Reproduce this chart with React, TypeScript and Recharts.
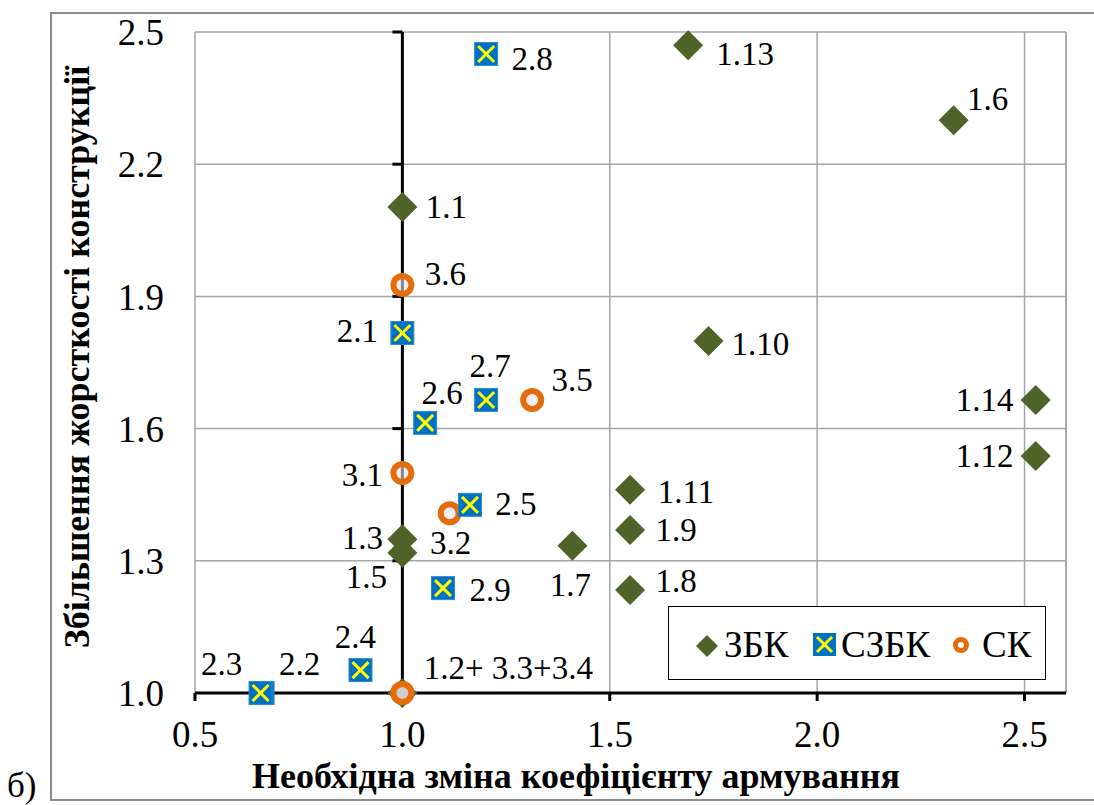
import React from 'react';
import {
    ScatterChart,
    Scatter,
    XAxis,
    YAxis,
    CartesianGrid,
    ReferenceLine,
    Legend,
} from 'recharts';

const FONT = "'Liberation Serif', 'Times New Roman', 'DejaVu Serif', serif";

// axis ticks
const X_TICKS = [0.5, 1.0, 1.5, 2.0, 2.5];
const Y_TICKS = [1.0, 1.3, 1.6, 1.9, 2.2, 2.5];

// ЗБК
const zbkNames = ['1.1', '1.2', '1.3', '1.5', '1.6', '1.7', '1.8', '1.9', '1.10', '1.11', '1.12', '1.13', '1.14'];
const zbkX = [1.0, 1.0, 1.0, 1.0, 2.329, 1.41, 1.549, 1.549, 1.738, 1.549, 2.527, 1.689, 2.527];
const zbkY = [2.103, 1.0, 1.349, 1.318, 2.3, 1.334, 1.234, 1.37, 1.799, 1.461, 1.538, 2.47, 1.665];

// СЗБК
const szbkNames = ['2.1', '2.2', '2.3', '2.4', '2.5', '2.6', '2.7', '2.8', '2.9'];
const szbkX = [1.0, 0.663, 0.658, 0.899, 1.163, 1.055, 1.202, 1.202, 1.098];
const szbkY = [1.817, 1.0, 1.0, 1.052, 1.427, 1.613, 1.665, 2.45, 1.238];

// СК
const skNames = ['3.1', '3.2', '3.3', '3.4', '3.5', '3.6'];
const skX = [1.0, 1.114, 1.0, 1.0, 1.313, 1.0];
const skY = [1.499, 1.408, 1.0, 1.0, 1.665, 1.926];

// label text overrides (merged label at the origin)
const LABEL_TEXT: Record<string, string> = { '1.2': '1.2+ 3.3+3.4', '3.3': '', '3.4': '' };

// label placement relative to the marker, px
const LABEL_OFFSETS: Record<string, [number, number]> = {
    '1.1': [44, 0], '1.2': [106, -25], '1.3': [-40, -1], '1.5': [-36, 24],
    '1.6': [34, -21], '1.7': [-2, 39], '1.8': [46, -9], '1.9': [46, 0],
    '1.10': [52, 3], '1.11': [56, 2], '1.12': [-51, 0], '1.13': [57, 9], '1.14': [-51, 0],
    '2.1': [-45, -2], '2.2': [37, -29], '2.3': [-39, -29], '2.4': [-5, -33],
    '2.5': [46, -1], '2.6': [17, -30], '2.7': [4, -34], '2.8': [46, 5], '2.9': [47, 2],
    '3.1': [-40, 2], '3.2': [1, 30], '3.5': [40, -20], '3.6': [43, -11],
};

const toPoints = (names: string[], xs: number[], ys: number[]) =>
    names.map((name, i) => ({ name, x: xs[i], y: ys[i] }));

const zbkData = toPoints(zbkNames, zbkX, zbkY);
const szbkData = toPoints(szbkNames, szbkX, szbkY);
const skData = toPoints(skNames, skX, skY);

const GREEN = '#4F6228';
const BLUE = '#0070C0';
const YELLOW = '#FFFF00';
const ORANGE = '#E46C0A';
const GRID = '#A6A6A6';

const PointLabel = ({ cx, cy, name }: { cx: number; cy: number; name: string }) => {
    const off = LABEL_OFFSETS[name];
    const text = LABEL_TEXT[name] ?? name;
    if (!off || !text) return null;
    return (
        <text
            x={cx + off[0]}
            y={cy + off[1]}
            textAnchor="middle"
            dominantBaseline="central"
            style={{ fontFamily: FONT, fontSize: 33 }}
            fill="#000"
        >
            {text}
        </text>
    );
};

const DiamondShape = (props: any) => {
    const { cx, cy, payload } = props;
    const r = 15;
    return (
        <g>
            <path d={`M${cx},${cy - r}L${cx + r},${cy}L${cx},${cy + r}L${cx - r},${cy}Z`} fill={GREEN} />
            <PointLabel cx={cx} cy={cy} name={payload.name} />
        </g>
    );
};

const CrossSquareShape = (props: any) => {
    const { cx, cy, payload } = props;
    const h = 11.5;
    const k = 8;
    return (
        <g>
            <rect x={cx - h} y={cy - h} width={h * 2} height={h * 2} fill={BLUE} stroke="#2E8BD8" strokeWidth={1} />
            <line x1={cx - k} y1={cy - k} x2={cx + k} y2={cy + k} stroke={YELLOW} strokeWidth={3} />
            <line x1={cx - k} y1={cy + k} x2={cx + k} y2={cy - k} stroke={YELLOW} strokeWidth={3} />
            <PointLabel cx={cx} cy={cy} name={payload.name} />
        </g>
    );
};

const RingShape = (props: any) => {
    const { cx, cy, payload } = props;
    return (
        <g>
            <circle cx={cx} cy={cy} r={9} fill="#E6E2EC" fillOpacity={0.6} stroke={ORANGE} strokeWidth={6} />
            <PointLabel cx={cx} cy={cy} name={payload.name} />
        </g>
    );
};

const legendText = { fontFamily: FONT, fontSize: 37 };

const renderLegend = () => (
    <div
        style={{
            width: 378,
            height: 74,
            boxSizing: 'border-box',
            border: '1.5px solid #000',
            background: '#fff',
        }}
    >
        <svg width={375} height={71} style={{ display: 'block' }}>
            <path d="M38,28L49,39L38,50L27,39Z" fill={GREEN} />
            <text x={55} y={50} style={legendText} fill="#000">ЗБК</text>
            <rect x={144} y={26} width={23} height={23} fill={BLUE} />
            <line x1={148} y1={30} x2={163} y2={45} stroke={YELLOW} strokeWidth={3} />
            <line x1={148} y1={45} x2={163} y2={30} stroke={YELLOW} strokeWidth={3} />
            <text x={172} y={50} style={legendText} fill="#000">СЗБК</text>
            <circle cx={292} cy={38} r={5.5} fill="#fff" stroke={ORANGE} strokeWidth={5} />
            <text x={313} y={50} style={legendText} fill="#000">СК</text>
        </svg>
    </div>
);

const tickStyle = { fill: '#000', fontSize: 37, fontFamily: FONT };
const titleStyle = { fontFamily: FONT, fontSize: 36, fontWeight: 700 };

export default function App() {
    return (
        <div
            style={{
                position: 'absolute',
                left: 0,
                top: 0,
                width: 1094,
                height: 805,
                overflow: 'hidden',
                background: '#fff',
                fontFamily: FONT,
            }}
        >
            <div
                style={{
                    position: 'absolute',
                    left: 50,
                    top: 12,
                    width: 1100,
                    height: 789,
                    boxSizing: 'border-box',
                    border: '2px solid #8C8C8C',
                }}
            />
            <div style={{ position: 'absolute', left: 0, top: 0 }}>
                <ScatterChart
                    width={1094}
                    height={805}
                    margin={{ top: 32, right: 28, left: 135, bottom: 72 }}
                    style={{ fontFamily: FONT }}
                >
                    <CartesianGrid stroke={GRID} strokeWidth={1.5} />
                    <XAxis
                        type="number"
                        dataKey="x"
                        domain={[0.5, 2.6]}
                        ticks={X_TICKS}
                        tickFormatter={(v: number) => v.toFixed(1)}
                        tick={tickStyle}
                        axisLine={{ stroke: '#000', strokeWidth: 3 }}
                        tickLine={{ stroke: '#000', strokeWidth: 3 }}
                        tickSize={8}
                        tickMargin={20}
                        height={40}
                    />
                    <YAxis
                        type="number"
                        dataKey="y"
                        domain={[1.0, 2.5]}
                        ticks={Y_TICKS}
                        tickFormatter={(v: number) => v.toFixed(1)}
                        tick={tickStyle}
                        axisLine={false}
                        tickLine={false}
                        tickSize={0}
                        tickMargin={31}
                        width={60}
                    />
                    <ReferenceLine x={2.6} stroke={GRID} strokeWidth={1.5} />
                    <ReferenceLine x={1.0} stroke="#000" strokeWidth={3} />
                    {Y_TICKS.slice(1).map((t) => (
                        <ReferenceLine
                            key={t}
                            segment={[{ x: 0.976, y: t }, { x: 1.0, y: t }]}
                            stroke="#000"
                            strokeWidth={3}
                        />
                    ))}
                    <Legend
                        layout="horizontal"
                        verticalAlign="middle"
                        align="center"
                        content={renderLegend}
                        wrapperStyle={{ position: 'absolute', left: 668, top: 606, width: 378, height: 74 }}
                    />
                    <Scatter name="ЗБК" data={zbkData} shape={DiamondShape} isAnimationActive={false} />
                    <Scatter name="СК" data={skData} shape={RingShape} isAnimationActive={false} />
                    <Scatter name="СЗБК" data={szbkData} shape={CrossSquareShape} isAnimationActive={false} />
                </ScatterChart>
            </div>
            <svg
                width={1094}
                height={805}
                style={{ position: 'absolute', left: 0, top: 0, pointerEvents: 'none' }}
            >
                <text x={576} y={788} textAnchor="middle" style={titleStyle} fill="#000">
                    Необхідна зміна коефіцієнту армування
                </text>
                <text
                    x={0}
                    y={0}
                    transform="translate(89,357) rotate(-90)"
                    textAnchor="middle"
                    style={titleStyle}
                    fill="#000"
                >
                    Збільшення жорсткості конструкції
                </text>
                <text x={7} y={797} style={{ fontFamily: FONT, fontSize: 35 }} fill="#000">
                    б)
                </text>
            </svg>
        </div>
    );
}
